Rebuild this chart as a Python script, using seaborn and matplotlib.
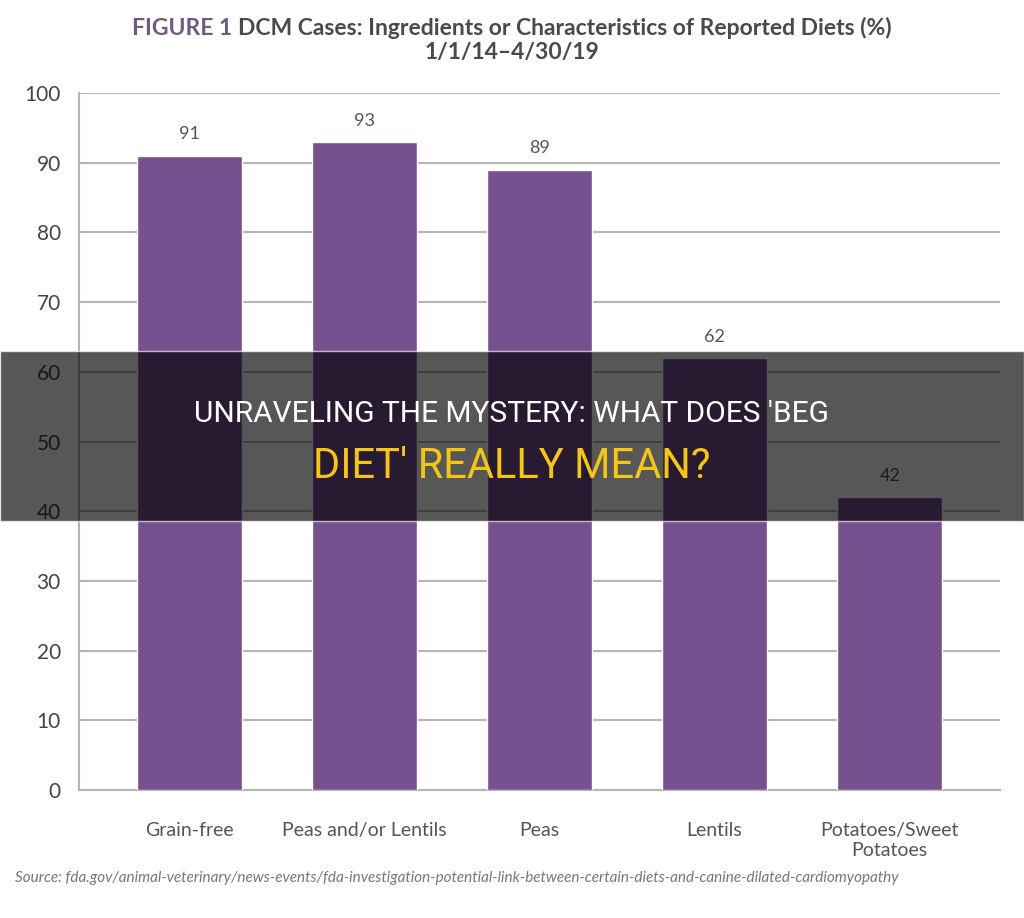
import matplotlib
matplotlib.use('Agg')
import pandas as pd
import seaborn as sns
import matplotlib.pyplot as plt
from matplotlib.patches import Rectangle

# data
categories = ['Grain-free', 'Peas and/or Lentils', 'Peas', 'Lentils', 'Potatoes/Sweet\nPotatoes']
percent = [91, 93, 89, 62, 42]
y_ticks = [0, 10, 20, 30, 40, 50, 60, 70, 80, 90, 100]

df = pd.DataFrame({'diet': categories, 'pct': percent})

sns.set_theme(style='white')
plt.rcParams['font.family'] = ['Lato', 'DejaVu Sans']

fig = plt.figure(figsize=(10.24, 9.18), dpi=100)
ax = fig.add_axes([0.0771, 0.1394, 0.8995, 0.7593])

sns.barplot(data=df, x='diet', y='pct', color='#77508f', width=0.6,
            saturation=1, ax=ax, zorder=3)

ax.set_xlim(-0.63, 4.63)
ax.set_ylim(0, 100)
ax.set_yticks(y_ticks)
ax.yaxis.grid(True, color='#b5b5b5', linewidth=1.5, zorder=0)
ax.set_axisbelow(True)
ax.set_xlabel('')
ax.set_ylabel('')
ax.tick_params(axis='y', labelsize=15, labelcolor='#444444', length=0, pad=13)
ax.tick_params(axis='x', labelsize=14, labelcolor='#555555', length=0, pad=23)
for s in ['top', 'right']:
    ax.spines[s].set_visible(False)
for s in ['left', 'bottom']:
    ax.spines[s].set_color('#b5b5b5')
    ax.spines[s].set_linewidth(1.5)

# value labels above bars
for i, v in enumerate(percent):
    ax.text(i, v + 1.9, str(v), ha='center', va='bottom', fontsize=13,
            color='#555555')

# title: purple "FIGURE 1" followed by the dark gray rest, centred as one line
title_kw = dict(va='center', fontsize=16.5, fontweight='bold')
t_a = fig.text(0, 0.969, 'FIGURE 1 ', color='#6e5a82', **title_kw)
t_b = fig.text(0, 0.969, 'DCM Cases: Ingredients or Characteristics of Reported Diets (%)',
               color='#4a4a4a', **title_kw)
fig.canvas.draw()
r = fig.canvas.get_renderer()
wa = t_a.get_window_extent(r).width / fig.bbox.width
wb = t_b.get_window_extent(r).width / fig.bbox.width
x0 = 0.5 - (wa + wb) / 2
t_a.set_x(x0)
t_b.set_x(x0 + wa)
fig.text(0.5, 0.943, '1/1/14\u20134/30/19', ha='center', va='center', fontsize=16.5,
         color='#4a4a4a', fontweight='bold')

# source line
fig.text(0.015, 0.044,
         'Source: fda.gov/animal-veterinary/news-events/fda-investigation-potential-link-between-certain-diets-and-canine-dilated-cardiomyopathy',
         ha='left', va='center', fontsize=11, color='#777777', style='italic')

# dark banner overlay
fig.patches.append(Rectangle((0, 1 - 521 / 918), 1, 170 / 918, transform=fig.transFigure,
                             facecolor='black', alpha=0.66, zorder=10))
fig.text(0.5, 1 - 414 / 918, "UNRAVELING THE MYSTERY: WHAT DOES 'BEG",
         ha='center', va='center', fontsize=21.5, color='white', zorder=11,
         family=['Roboto', 'DejaVu Sans'])
fig.text(0.5, 1 - 466 / 918, "DIET' REALLY MEAN?",
         ha='center', va='center', fontsize=30, color='#f5c518', zorder=11,
         family=['Roboto', 'DejaVu Sans'])

fig.savefig('out.png', dpi=100)
